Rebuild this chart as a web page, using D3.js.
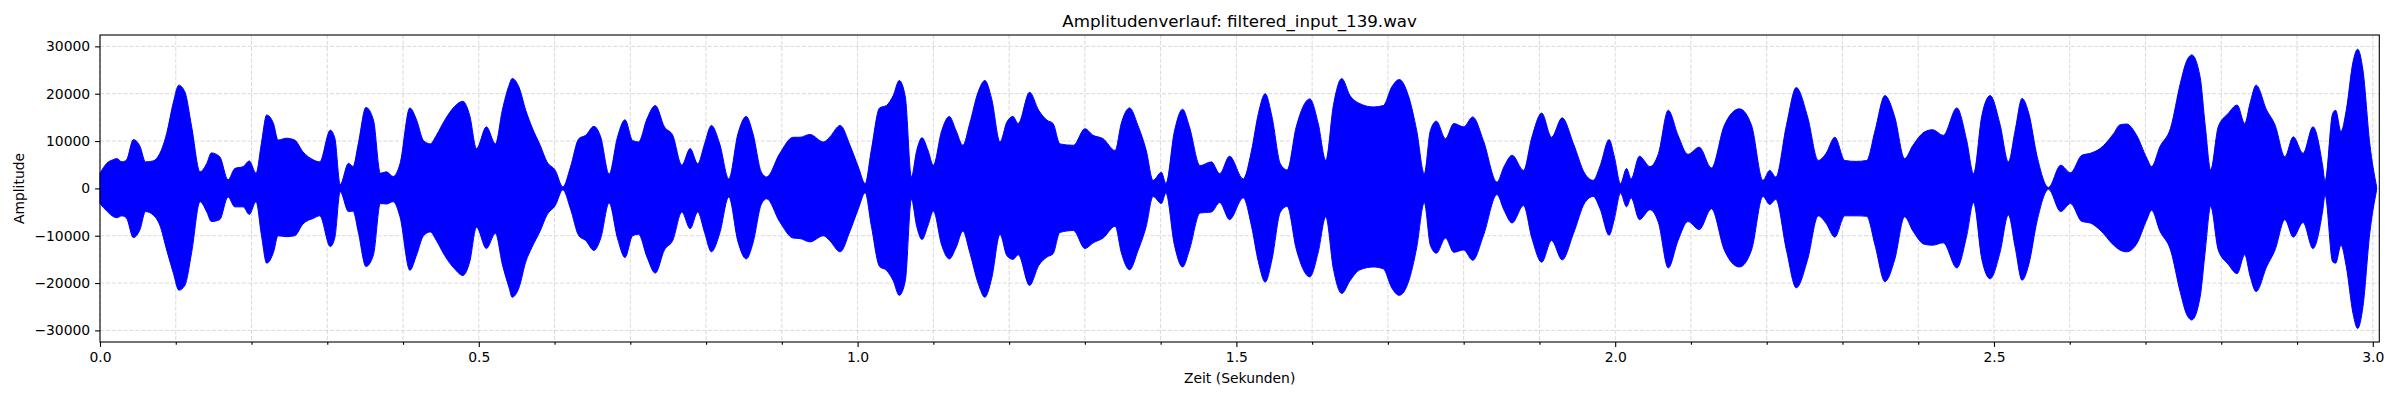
<!DOCTYPE html>
<html>
<head>
<meta charset="utf-8">
<script src="https://cdn.jsdelivr.net/npm/d3@7"></script>
<style>
  body { margin: 0; background: #fff; }
  text { font-family: "DejaVu Sans", sans-serif; fill: #000; }
</style>
</head>
<body>
<div id="chart"></div>
<script>
// envelope of the waveform (seconds, amplitude)
var times = [
  0.000, 0.009, 0.018, 0.022, 0.029, 0.035, 0.044, 0.053, 0.060, 0.070,
  0.079, 0.088, 0.097, 0.104, 0.112, 0.121, 0.132, 0.141, 0.147, 0.158,
  0.169, 0.178, 0.189, 0.197, 0.206, 0.213, 0.220, 0.229, 0.235, 0.246,
  0.257, 0.268, 0.282, 0.290, 0.304, 0.310, 0.317, 0.328, 0.334, 0.341,
  0.351, 0.361, 0.370, 0.378, 0.387, 0.396, 0.409, 0.418, 0.427, 0.436,
  0.444, 0.455, 0.468, 0.479, 0.488, 0.497, 0.510, 0.522, 0.531, 0.540,
  0.544, 0.553, 0.562, 0.570, 0.581, 0.590, 0.601, 0.611, 0.621, 0.632,
  0.641, 0.652, 0.661, 0.672, 0.683, 0.693, 0.703, 0.711, 0.722, 0.733,
  0.745, 0.756, 0.768, 0.779, 0.789, 0.798, 0.807, 0.818, 0.830, 0.842,
  0.853, 0.862, 0.873, 0.880, 0.897, 0.915, 0.924, 0.937, 0.955, 0.963,
  0.977, 0.990, 1.001, 1.010, 1.018, 1.029, 1.038, 1.047, 1.055, 1.063,
  1.071, 1.078, 1.085, 1.093, 1.100, 1.111, 1.121, 1.130, 1.139, 1.148,
  1.159, 1.168, 1.177, 1.188, 1.197, 1.205, 1.212, 1.227, 1.239, 1.250,
  1.258, 1.267, 1.285, 1.300, 1.311, 1.324, 1.340, 1.348, 1.359, 1.370,
  1.381, 1.390, 1.401, 1.407, 1.418, 1.429, 1.438, 1.452, 1.467, 1.478,
  1.491, 1.509, 1.520, 1.529, 1.538, 1.547, 1.558, 1.567, 1.579, 1.597,
  1.608, 1.618, 1.628, 1.639, 1.650, 1.663, 1.681, 1.694, 1.705, 1.715,
  1.727, 1.738, 1.748, 1.756, 1.764, 1.776, 1.787, 1.800, 1.812, 1.826,
  1.844, 1.853, 1.864, 1.879, 1.890, 1.903, 1.916, 1.930, 1.945, 1.960,
  1.971, 1.980, 1.992, 1.999, 2.007, 2.015, 2.021, 2.032, 2.046, 2.057,
  2.070, 2.083, 2.096, 2.111, 2.127, 2.144, 2.164, 2.180, 2.195, 2.204,
  2.212, 2.226, 2.239, 2.254, 2.268, 2.278, 2.290, 2.303, 2.318, 2.332,
  2.343, 2.356, 2.369, 2.382, 2.393, 2.408, 2.419, 2.433, 2.451, 2.464,
  2.473, 2.484, 2.495, 2.508, 2.519, 2.528, 2.537, 2.546, 2.557, 2.572,
  2.588, 2.601, 2.616, 2.627, 2.640, 2.658, 2.666, 2.675, 2.688, 2.702,
  2.708, 2.719, 2.733, 2.746, 2.754, 2.761, 2.772, 2.779, 2.786, 2.796,
  2.809, 2.821, 2.831, 2.838, 2.846, 2.860, 2.871, 2.884, 2.895, 2.908,
  2.921, 2.934, 2.937, 2.947, 2.951, 2.958, 2.965, 2.974, 2.980, 2.987,
  2.996, 3.005
];
var upper = [
  3200, 5300, 6100, 6300, 5600, 6000, 10300, 8800, 5600, 5800,
  7400, 11600, 18300, 21800, 20400, 13000, 3500, 5300, 7500, 6700,
  1800, 4200, 4600, 5800, 3200, 9500, 15500, 13700, 10200, 10600,
  10200, 7700, 6000, 5600, 12300, 10600, 800, 5300, 4600, 9500,
  17100, 14400, 3200, 3500, 2500, 5200, 17000, 14400, 10100, 9400,
  11200, 14400, 17300, 18400, 15400, 8400, 13000, 9400, 16500, 21800,
  23200, 21400, 16500, 13000, 9100, 5600, 3800, 300, 4500, 10500,
  11200, 13100, 10800, 3000, 10800, 14500, 10100, 9800, 14700, 17500,
  13000, 11200, 4900, 8400, 5200, 9400, 13300, 9400, 2000, 11500,
  15200, 11500, 3400, 2400, 7300, 10800, 10800, 11400, 9800, 10800,
  13300, 9100, 4500, 1000, 8000, 17000, 17500, 19600, 22800, 19300,
  2400, 8000, 10700, 8000, 4900, 12200, 15200, 12200, 9100, 13700,
  20300, 22800, 18900, 9800, 14000, 15200, 13700, 20300, 16500, 14400,
  13700, 9400, 9100, 12600, 11200, 10500, 8000, 13700, 17000, 13300,
  8000, 1700, 3400, 1000, 11900, 16700, 13000, 4800, 5600, 3100,
  6800, 2000, 8000, 15800, 20000, 15100, 5200, 3900, 13000, 18900,
  13700, 5900, 17500, 23200, 19600, 17900, 17200, 17500, 21400, 23000,
  19600, 12200, 3100, 12200, 14200, 10500, 13700, 13000, 15100, 10100,
  1300, 4500, 7000, 3800, 10800, 15900, 10800, 14900, 9400, 3100,
  1700, 4700, 10300, 6600, 1000, 4200, 2000, 6800, 4600, 7300,
  16500, 11200, 7200, 8700, 4300, 13300, 16800, 13300, 1700, 3800,
  2400, 13300, 21300, 15100, 5900, 7300, 10800, 5900, 5700, 5900,
  12200, 19600, 15100, 6300, 9100, 11900, 12400, 11200, 17000, 10100,
  3100, 15400, 19600, 13500, 5600, 12300, 19000, 15800, 6700, 200,
  4900, 3300, 7000, 7400, 8400, 11600, 13400, 13600, 11300, 6300,
  4600, 8800, 12700, 22200, 26800, 28200, 23600, 13000, 3900, 13000,
  15800, 17600, 13700, 18000, 21800, 16500, 13400, 6700, 10900, 7400,
  13000, 4600, 1400, 15800, 16500, 12000, 16500, 26800, 29400, 25000,
  9500, 400
];
var lower = [
  -3200, -4800, -6000, -6200, -5800, -6300, -10400, -8600, -4900, -5600,
  -7800, -13000, -18000, -21500, -20500, -13500, -2800, -5000, -7000, -6600,
  -1800, -3900, -3900, -5500, -2800, -9800, -15800, -13500, -10000, -10200,
  -10000, -7500, -6300, -5800, -12300, -10400, -700, -4900, -4800, -9300,
  -16500, -14000, -3200, -3300, -2800, -6000, -17300, -14000, -10000, -9200,
  -11000, -14200, -17000, -18400, -15500, -8200, -12700, -9500, -16000, -21000,
  -23000, -21000, -15500, -12500, -9000, -5600, -3600, -300, -4300, -10000,
  -11000, -13100, -10500, -3100, -10500, -14600, -10000, -9700, -14500, -17900,
  -13000, -11000, -5000, -8500, -5000, -9300, -13400, -9500, -1800, -11200,
  -14900, -11500, -3300, -2200, -7000, -10500, -10600, -11300, -10000, -11000,
  -13400, -9000, -4300, -900, -7800, -16500, -17300, -19500, -22600, -19500,
  -2300, -8000, -10800, -7800, -4800, -12000, -14900, -12500, -9000, -13500,
  -20000, -23000, -19000, -9700, -14200, -15000, -14000, -20500, -16300, -14500,
  -13800, -9300, -8900, -12700, -11500, -10500, -8000, -13500, -17200, -13200,
  -8000, -1700, -3200, -1000, -11800, -16600, -13000, -5200, -5000, -3000,
  -6600, -2000, -8000, -15500, -19800, -15000, -5000, -3800, -12800, -18700,
  -13500, -6000, -17000, -22200, -19500, -17200, -16600, -17000, -21000, -22600,
  -19800, -12500, -3000, -12000, -13700, -10500, -13500, -13000, -15200, -10000,
  -1300, -4500, -7300, -3600, -10500, -15600, -11000, -15100, -9500, -3000,
  -1700, -4300, -9900, -6400, -1000, -3900, -2000, -6600, -4500, -7200,
  -16800, -11000, -7000, -8700, -4300, -13000, -16600, -13000, -1700, -3400,
  -2300, -13000, -21000, -15000, -5800, -7300, -10300, -5800, -5800, -5900,
  -12000, -19700, -15000, -6000, -9000, -11800, -12000, -11500, -16800, -10000,
  -3000, -15000, -19100, -13500, -5600, -12500, -19400, -16000, -6800, -200,
  -4900, -3200, -7000, -7300, -8800, -12000, -13000, -13400, -11800, -6500,
  -4600, -9000, -13000, -22000, -26500, -27800, -23000, -13000, -3800, -13000,
  -16000, -18000, -14000, -18500, -21800, -16500, -13000, -6600, -10300, -7200,
  -12700, -4600, -1400, -15500, -15800, -12000, -16500, -26500, -29600, -25000,
  -9500, -400
];

var xMajor = [0, 0.5, 1.0, 1.5, 2.0, 2.5, 3.0];
var xMinor = [0.1, 0.2, 0.3, 0.4, 0.6, 0.7, 0.8, 0.9, 1.1, 1.2, 1.3, 1.4,
              1.6, 1.7, 1.8, 1.9, 2.1, 2.2, 2.3, 2.4, 2.6, 2.7, 2.8, 2.9];
var yTicks = [-30000, -20000, -10000, 0, 10000, 20000, 30000];

var width = 2400,
    height = 400,
    margin = {top: 35, right: 20.7, bottom: 58, left: 100};

var svg = d3.select("#chart")
  .append("svg")
  .attr("width", width)
  .attr("height", height)
  .style("display", "block");

svg.append("rect").attr("width", width).attr("height", height).attr("fill", "#fff");

var x = d3.scaleLinear()
  .domain([0, 3.0086])
  .range([margin.left, width - margin.right]);

var y = d3.scaleLinear()
  .domain([-32450, 32400])
  .range([height - margin.bottom, margin.top]);

var plotBottom = height - margin.bottom;

// grid
var grid = svg.append("g")
  .attr("stroke", "#b0b0b0")
  .attr("stroke-opacity", 0.6)
  .attr("stroke-width", 0.8)
  .attr("stroke-dasharray", "4.1,1.8");

grid.selectAll(".gx")
  .data(xMajor.concat(xMinor))
  .join("line")
  .attr("x1", d => x(d)).attr("x2", d => x(d))
  .attr("y1", margin.top).attr("y2", plotBottom);

grid.selectAll(".gy")
  .data(yTicks)
  .join("line")
  .attr("x1", margin.left).attr("x2", width - margin.right)
  .attr("y1", d => y(d)).attr("y2", d => y(d));

// waveform (filled envelope)
var points = times.map((t, i) => ({t: t, hi: upper[i], lo: lower[i]}));

var area = d3.area()
  .x(d => x(d.t))
  .y0(d => y(d.lo))
  .y1(d => y(d.hi))
  .curve(d3.curveMonotoneX);

svg.append("path")
  .datum(points)
  .attr("d", area)
  .attr("fill", "#0000ff")
  .attr("stroke", "#0000ff")
  .attr("stroke-width", 1)
  .attr("stroke-linejoin", "round");

// axes
var xAxis = svg.append("g")
  .attr("transform", "translate(0," + plotBottom + ")")
  .call(d3.axisBottom(x).tickValues(xMajor).tickFormat(d3.format(".1f"))
    .tickSize(4.9).tickSizeOuter(0).tickPadding(5.5));

svg.append("g")
  .attr("transform", "translate(0," + plotBottom + ")")
  .call(d3.axisBottom(x).tickValues(xMinor).tickFormat("")
    .tickSize(2.8).tickSizeOuter(0))
  .call(g => g.select(".domain").remove());

var yAxis = svg.append("g")
  .attr("transform", "translate(" + margin.left + ",0)")
  .call(d3.axisLeft(y).tickValues(yTicks).tickFormat(d3.format("d"))
    .tickSize(4.9).tickSizeOuter(0).tickPadding(4.9));

svg.selectAll(".tick line").attr("stroke", "#000").attr("stroke-width", 1.1);
svg.selectAll(".tick text")
  .style("font-family", "'DejaVu Sans', sans-serif")
  .style("font-size", "13.9px")
  .attr("fill", "#000");
xAxis.select(".domain").remove();
yAxis.select(".domain").remove();

// spines
svg.append("rect")
  .attr("x", margin.left)
  .attr("y", margin.top)
  .attr("width", width - margin.right - margin.left)
  .attr("height", plotBottom - margin.top)
  .attr("fill", "none")
  .attr("stroke", "#000")
  .attr("stroke-width", 1.1);

// labels
var cx = (margin.left + width - margin.right) / 2;

svg.append("text")
  .attr("x", cx).attr("y", 26.7)
  .attr("text-anchor", "middle")
  .style("font-size", "16.7px")
  .text("Amplitudenverlauf: filtered_input_139.wav");

svg.append("text")
  .attr("x", cx).attr("y", 382.7)
  .attr("text-anchor", "middle")
  .style("font-size", "13.9px")
  .text("Zeit (Sekunden)");

svg.append("text")
  .attr("transform", "translate(24," + (margin.top + plotBottom) / 2 + ") rotate(-90)")
  .attr("text-anchor", "middle")
  .style("font-size", "13.9px")
  .text("Amplitude");
</script>
</body>
</html>
